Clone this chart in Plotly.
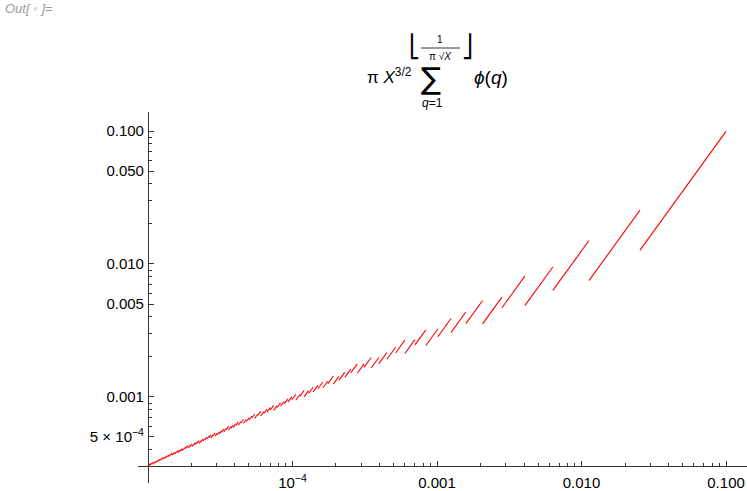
import math
import plotly.graph_objects as go

# ---------------- data ----------------
q_values = list(range(1, 101))
phi_values = [1, 1, 2, 2, 4, 2, 6, 4, 6, 4,
              10, 4, 12, 6, 8, 8, 16, 6, 18, 8,
              12, 10, 22, 8, 20, 12, 18, 12, 28, 8,
              30, 16, 20, 16, 24, 12, 36, 18, 24, 16,
              40, 12, 42, 20, 24, 22, 46, 16, 42, 20,
              32, 24, 52, 18, 40, 24, 36, 28, 58, 16,
              60, 30, 36, 32, 48, 20, 66, 32, 44, 24,
              70, 24, 72, 36, 40, 36, 60, 24, 78, 32,
              54, 40, 82, 24, 64, 42, 56, 40, 88, 24,
              72, 44, 60, 46, 72, 32, 96, 42, 60, 40]
x_limits = [1e-5, 0.1]

x_tick_vals = [1e-4, 1e-3, 1e-2, 1e-1]
x_tick_text = ["10<sup>−4</sup>", "0.001", "0.010", "0.100"]
x_minor_vals = [m * 10.0 ** e for e in (-5, -4, -3, -2) for m in range(2, 10)]
y_tick_vals = [5e-4, 1e-3, 5e-3, 1e-2, 5e-2, 1e-1]
y_tick_text = ["5 × 10<sup>−4</sup>", "0.001", "0.005", "0.010", "0.050", "0.100"]
y_minor_vals = [m * 10.0 ** e for e in (-4, -3, -2) for m in (2, 3, 4, 6, 7, 8, 9)
                if m * 10.0 ** e > 3.1e-4]

# ---------------- piecewise curve ----------------
xs, ys = [], []
cum = 0
for q, p in zip(q_values, phi_values):
    cum += p
    lo = max(x_limits[0], 1.0 / (math.pi ** 2 * (q + 1) ** 2))
    hi = min(x_limits[1], 1.0 / (math.pi ** 2 * q ** 2))
    if lo < hi:
        for xv in (lo, hi):
            xs.append(xv)
            ys.append(math.pi * xv ** 1.5 * cum)
        xs.append(None)
        ys.append(None)

y_min = min(v for v in ys if v is not None)

# ---------------- layout geometry ----------------
W, H = 747, 491
L, R, T, B = 138, 0, 112, 8
pw, ph = W - L - R, H - T - B
xr = [-5.069, -0.855]
yr = [-3.647, -0.857]

x_axis_pos = (math.log10(y_min) - yr[0]) / (yr[1] - yr[0])
y_axis_pos = (math.log10(x_limits[0]) - xr[0]) / (xr[1] - xr[0])

def px(x):   # page pixel -> paper fraction
    return (x - L) / pw

def py(y):
    return (H - B - y) / ph

axis_col = "#333333"
font_fam = "Liberation Sans, Arial, sans-serif"

fig = go.Figure()
fig.add_trace(go.Scatter(x=xs, y=ys, mode="lines",
                         line=dict(color="rgb(255,0,0)", width=1.1),
                         connectgaps=False, hoverinfo="skip", showlegend=False))

fig.update_layout(
    width=W, height=H,
    margin=dict(l=L, r=R, t=T, b=B, pad=0),
    paper_bgcolor="white", plot_bgcolor="white",
    font=dict(family=font_fam, size=15, color="black"),
    showlegend=False,
    xaxis=dict(type="log", range=xr, anchor="free", position=x_axis_pos,
               showgrid=False, zeroline=False, showline=True, linecolor=axis_col,
               linewidth=1, ticks="inside", ticklen=5, tickcolor=axis_col,
               ticklabelstandoff=3, ticklabeloverflow="allow",
               tickvals=x_tick_vals, ticktext=x_tick_text,
               minor=dict(tickvals=x_minor_vals, ticks="inside", ticklen=3,
                          tickcolor=axis_col, showgrid=False)),
    yaxis=dict(type="log", range=yr, anchor="free", position=y_axis_pos,
               showgrid=False, zeroline=False, showline=True, linecolor=axis_col,
               linewidth=1, ticks="inside", ticklen=5, tickcolor=axis_col,
               ticklabelstandoff=1,
               tickvals=y_tick_vals, ticktext=y_tick_text,
               minor=dict(tickvals=y_minor_vals, ticks="inside", ticklen=3,
                          tickcolor=axis_col, showgrid=False)),
)

def ann(text, x, y, size, xanchor="center", yanchor="middle", color="black",
        family=font_fam):
    fig.add_annotation(text=text, x=px(x), y=py(y), xref="paper", yref="paper",
                       showarrow=False, xanchor=xanchor, yanchor=yanchor,
                       font=dict(size=size, color=color, family=family))

ann("<i>Out[</i> ◦ <i>]=</i>", 3, 9, 13, xanchor="left", color="#9a9a9a")
ann("π <i>X</i><sup>3/2</sup>", 389, 76, 17)
ann("∑", 431, 79, 30, family="DejaVu Sans")
ann("<i>q</i>=1", 432, 103, 12)
ann("⎣", 414, 46, 22, family="DejaVu Sans")
ann("⎦", 467, 46, 22, family="DejaVu Sans")
ann("1", 440, 40, 10)
ann("π √<i>X</i>", 440, 56, 10)
ann("<i>ϕ</i>(<i>q</i>)", 491, 77, 19)
fig.add_shape(type="line", xref="paper", yref="paper",
              x0=px(421), x1=px(460), y0=py(48), y1=py(48),
              line=dict(color="black", width=0.8))

fig.write_html("out.html", config={"displayModeBar": False},
               post_script="document.body.style.margin='0';"
                           "document.body.style.overflow='hidden';")
